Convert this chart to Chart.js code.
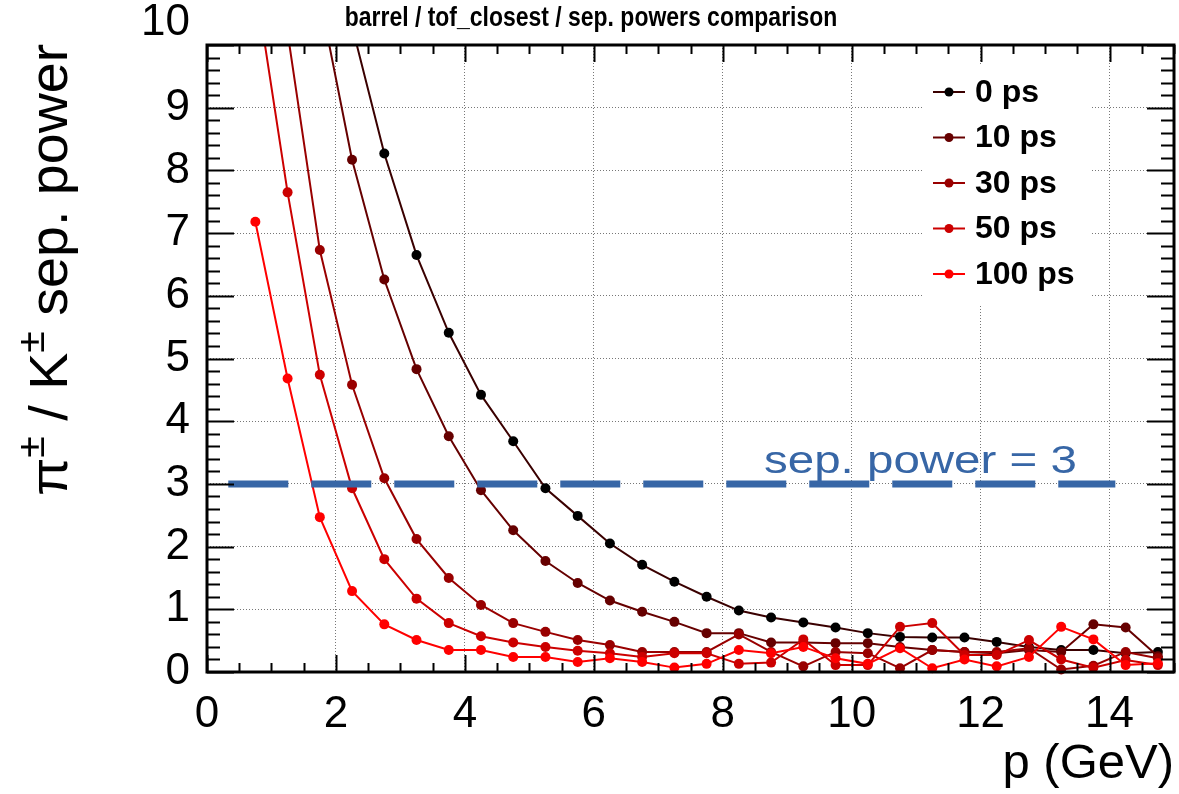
<!DOCTYPE html>
<html>
<head>
<meta charset="utf-8">
<script src="https://cdn.jsdelivr.net/npm/chart.js@4.4.0/dist/chart.umd.min.js"></script>
<style>
  html, body { margin: 0; padding: 0; background: #fff; }
  #wrap { width: 1179px; height: 794px; }
</style>
</head>
<body>
<div id="wrap"><canvas id="sep-chart" width="1179" height="794"></canvas></div>
<script>
// momentum bin centres (GeV)
const pBins = [0.75, 1.25, 1.75, 2.25, 2.75, 3.25, 3.75, 4.25, 4.75, 5.25,
  5.75, 6.25, 6.75, 7.25, 7.75, 8.25, 8.75, 9.25, 9.75, 10.25,
  10.75, 11.25, 11.75, 12.25, 12.75, 13.25, 13.75, 14.25, 14.75]

// separation power per time resolution (null = not in the picture)
const sep0ps = [null, null, null, 10.3, 8.27, 6.65, 5.41, 4.42, 3.68, 2.93,
  2.49, 2.05, 1.71, 1.44, 1.20, 0.98, 0.87, 0.79, 0.71, 0.62,
  0.56, 0.55, 0.55, 0.48, 0.40, 0.35, 0.35, 0.30, 0.32]
const sep10ps = [null, null, 10.76, 8.17, 6.26, 4.83, 3.76, 2.90, 2.26, 1.77,
  1.42, 1.14, 0.96, 0.80, 0.62, 0.62, 0.47, 0.47, 0.46, 0.46,
  0.40, 0.35, 0.32, 0.30, 0.35, 0.32, 0.76, 0.71, 0.25]
const sep30ps = [null, 10.2, 6.73, 4.58, 3.09, 2.12, 1.50, 1.07, 0.78, 0.64,
  0.51, 0.43, 0.32, 0.32, 0.32, 0.60, 0.32, 0.09, 0.32, 0.30,
  0.06, 0.35, 0.32, 0.32, 0.38, 0.04, 0.10, 0.32, 0.22]
const sep50ps = [11.0, 7.65, 4.74, 2.93, 1.80, 1.17, 0.78, 0.57, 0.47, 0.40,
  0.34, 0.30, 0.24, 0.30, 0.30, 0.13, 0.15, 0.52, 0.11, 0.11,
  0.72, 0.78, 0.27, 0.27, 0.51, 0.20, 0.07, 0.19, 0.11]
const sep100ps = [7.18, 4.68, 2.47, 1.29, 0.76, 0.51, 0.35, 0.35, 0.24, 0.24,
  0.16, 0.22, 0.16, 0.07, 0.13, 0.35, 0.30, 0.40, 0.22, 0.13,
  0.38, 0.06, 0.20, 0.09, 0.24, 0.72, 0.52, 0.11, 0.14]

const seriesLabels = ["0 ps", "10 ps", "30 ps", "50 ps", "100 ps"]
const seriesValues = [sep0ps, sep10ps, sep30ps, sep50ps, sep100ps]
const lineColors = ["#3a0000", "#660000", "#990000", "#cc0000", "#ff0000"]
const markerColors = ["#000000", "#660000", "#990000", "#cc0000", "#ff0000"]

const xTickValues = [0, 2, 4, 6, 8, 10, 12, 14]
const yTickValues = [0, 1, 2, 3, 4, 5, 6, 7, 8, 9, 10]

// reference line
const cutValue = 3
const cutRange = [0.33, 14.09]
const cutLabel = "sep. power = 3"
const cutBlue = "#3766a6"

const padTitle = "barrel / tof_closest / sep. powers comparison"

const toPoints = (values) => pBins.map((p, i) => ({ x: p, y: values[i] }))

const datasets = seriesValues.map((values, i) => ({
  label: seriesLabels[i],
  data: toPoints(values),
  borderColor: lineColors[i],
  backgroundColor: markerColors[i],
  pointBackgroundColor: markerColors[i],
  pointBorderColor: markerColors[i],
  pointRadius: 5,
  pointBorderWidth: 0,
  borderWidth: 2,
  tension: 0,
  spanGaps: false,
  clip: { top: 0, left: 8, right: 8, bottom: 8 },
  order: 5 - i + 1,
}))

datasets.push({
  label: "cut",
  data: cutRange.map((p) => ({ x: p, y: cutValue })),
  borderColor: cutBlue,
  borderWidth: 7,
  borderDash: [60, 23],
  borderCapStyle: "butt",
  pointRadius: 0,
  order: 0,
})

// frame, inward ticks, legend and the texts ROOT puts on the pad
const padDecor = {
  id: "padDecor",
  afterDraw(chart) {
    const { ctx, chartArea: a, scales } = chart
    const xs = scales.x
    const ys = scales.y
    ctx.save()

    // minor / major ticks on all four sides
    ctx.strokeStyle = "#000"
    ctx.lineWidth = 2
    ctx.beginPath()
    for (let k = 0; k <= 30; k++) {
      const v = k * 0.5
      const px = Math.round(xs.getPixelForValue(v)) + 0.5
      const len = k % 4 === 0 ? 17 : 9
      ctx.moveTo(px, a.bottom); ctx.lineTo(px, a.bottom - len)
      ctx.moveTo(px, a.top); ctx.lineTo(px, a.top + len)
    }
    for (let k = 0; k <= 50; k++) {
      const v = k * 0.2
      const py = Math.round(ys.getPixelForValue(v)) + 0.5
      const len = k % 5 === 0 ? 27 : 13
      ctx.moveTo(a.left, py); ctx.lineTo(a.left + len, py)
      ctx.moveTo(a.right, py); ctx.lineTo(a.right - len, py)
    }
    ctx.stroke()

    ctx.lineWidth = 3
    ctx.strokeRect(a.left, a.top, a.right - a.left, a.bottom - a.top)

    // pad title, condensed like the original
    ctx.save()
    ctx.translate(591, 18)
    ctx.scale(0.82, 1)
    ctx.fillStyle = "#000"
    ctx.font = "bold 28px 'Liberation Sans'"
    ctx.textAlign = "center"
    ctx.textBaseline = "middle"
    ctx.fillText(padTitle, 0, 0)
    ctx.restore()

    // legend
    ctx.fillStyle = "#fff"
    ctx.fillRect(923, 64, 168, 240)
    seriesLabels.forEach((label, i) => {
      const y = 92 + i * 45.5
      ctx.strokeStyle = lineColors[i]
      ctx.lineWidth = 2
      ctx.beginPath()
      ctx.moveTo(933, y); ctx.lineTo(965, y)
      ctx.stroke()
      ctx.fillStyle = markerColors[i]
      ctx.beginPath()
      ctx.arc(949, y, 4.5, 0, Math.PI * 2)
      ctx.fill()
      ctx.fillStyle = "#000"
      ctx.font = "bold 32px 'Liberation Sans'"
      ctx.textBaseline = "middle"
      ctx.textAlign = "left"
      ctx.fillText(label, 975, y + 1)
    })

    // label of the reference line
    ctx.save()
    ctx.translate(xs.getPixelForValue(8.64), ys.getPixelForValue(3.17))
    ctx.scale(1.25, 1)
    ctx.fillStyle = cutBlue
    ctx.font = "38px 'Liberation Sans'"
    ctx.textBaseline = "alphabetic"
    ctx.textAlign = "left"
    ctx.fillText(cutLabel, 0, 0)
    ctx.restore()

    // y axis title with superscripts
    const big = 54
    const sup = 38
    const parts = [
      ["\u03c0", big, 0],
      ["\u00b1", sup, 0.42],
      [" / K", big, 0],
      ["\u00b1", sup, 0.42],
      [" sep. power", big, 0],
    ]
    ctx.save()
    ctx.translate(67, 496)
    ctx.rotate(-Math.PI / 2)
    ctx.scale(1.03, 1)
    ctx.fillStyle = "#000"
    ctx.textAlign = "left"
    ctx.textBaseline = "alphabetic"
    let cx = 0
    parts.forEach(([txt, size, rise]) => {
      ctx.font = size + "px 'Liberation Sans'"
      ctx.fillText(txt, cx, -rise * big)
      cx += ctx.measureText(txt).width
    })
    ctx.restore()

    ctx.restore()
  },
}

new Chart(document.getElementById("sep-chart"), {
  type: "line",
  data: { datasets },
  options: {
    responsive: false,
    animation: false,
    devicePixelRatio: 1,
    layout: { padding: { top: 45, right: 3, bottom: 0, left: 0 } },
    plugins: {
      legend: { display: false },
      tooltip: { enabled: false },
      title: { display: false },
    },
    scales: {
      x: {
        type: "linear",
        min: 0,
        max: 15,
        afterBuildTicks: (axis) => { axis.ticks = xTickValues.map((v) => ({ value: v })) },
        afterFit: (axis) => {
          axis.height = 122
          axis.paddingLeft = 0
          axis.paddingRight = 0
        },
        ticks: {
          autoSkip: false,
          maxRotation: 0,
          padding: 16,
          color: "#000",
          font: { family: "'Liberation Sans'", size: 44 },
        },
        grid: {
          drawTicks: false,
          lineWidth: 1,
          color: (c) => (c.tick && c.tick.value === 0 ? "rgba(0,0,0,0)" : "#777"),
        },
        border: { display: false, dash: [1, 2] },
        title: {
          display: true,
          text: "p (GeV)",
          align: "end",
          color: "#000",
          font: { family: "'Liberation Sans'", size: 49 },
          padding: { top: 0, bottom: 0 },
        },
      },
      y: {
        min: 0,
        max: 10,
        afterBuildTicks: (axis) => { axis.ticks = yTickValues.map((v) => ({ value: v })) },
        afterFit: (axis) => {
          axis.width = 207
          axis.paddingTop = 0
          axis.paddingBottom = 0
        },
        ticks: {
          autoSkip: false,
          padding: 17,
          color: "#000",
          font: { family: "'Liberation Sans'", size: 44, lineHeight: 1.0 },
          callback: (v) => (v === 10 ? ["10", ""] : String(v)),
        },
        grid: {
          drawTicks: false,
          lineWidth: 1,
          color: (c) => (c.tick && (c.tick.value === 0 || c.tick.value === 10) ? "rgba(0,0,0,0)" : "#777"),
        },
        border: { display: false, dash: [1, 2] },
      },
    },
  },
  plugins: [padDecor],
})
</script>
</body>
</html>
